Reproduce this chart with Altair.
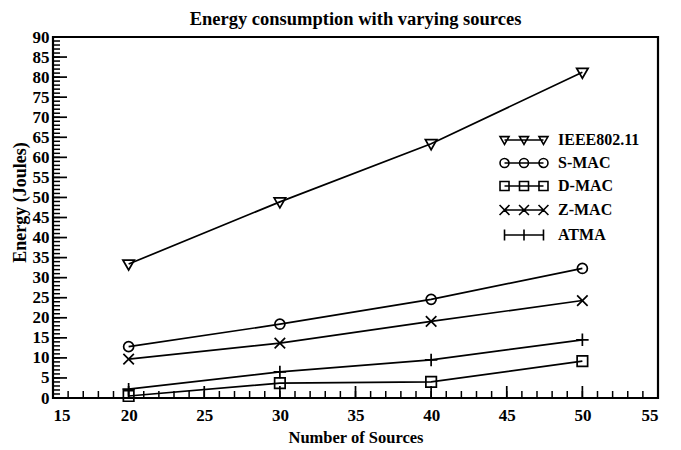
import altair as alt
import pandas as pd

# ---- data ----
sources = [20, 30, 40, 50]
series_names = ["IEEE802.11", "S-MAC", "D-MAC", "Z-MAC", "ATMA"]
ieee = [33.4, 48.9, 63.4, 81.2]
smac = [12.8, 18.4, 24.6, 32.3]
dmac = [0.5, 3.7, 4.0, 9.2]
zmac = [9.7, 13.7, 19.1, 24.3]
atma = [2.2, 6.5, 9.5, 14.5]

x_ticks_major = [15, 20, 25, 30, 35, 40, 45, 50, 55]
y_ticks_major = [0, 5, 10, 15, 20, 25, 30, 35, 40, 45, 50, 55, 60, 65, 70, 75, 80, 85, 90]
x_ticks_minor = list(range(15, 56))
y_ticks_minor = list(range(0, 91))

values = [ieee, smac, dmac, zmac, atma]
rows = []
for name, vals in zip(series_names, values):
    for s, v in zip(sources, vals):
        rows.append({"sources": s, "energy": v, "series": name})
df = pd.DataFrame(rows)

FONT = "Liberation Serif"
W, H = 605, 361

xscale = alt.Scale(domain=[15, 55], nice=False, zero=False)
yscale = alt.Scale(domain=[0, 90], nice=False)

x_axis = alt.Axis(values=x_ticks_major, ticks=False, domain=False, grid=False,
                  labelOverlap=False,
                  labelFont=FONT, labelFontWeight="bold", labelFontSize=17,
                  labelColor="black", labelPadding=9,
                  title="Number of Sources", titleFont=FONT, titleFontWeight="bold",
                  titleFontSize=16.5, titleColor="black", titlePadding=6)
y_axis = alt.Axis(values=y_ticks_major, ticks=False, domain=False, grid=False,
                  labelOverlap=False,
                  labelFont=FONT, labelFontWeight="bold", labelFontSize=17,
                  labelColor="black", labelPadding=4,
                  title="Energy (Joules)", titleFont=FONT, titleFontWeight="bold",
                  titleFontSize=18, titleColor="black", titlePadding=3, titleY=165)

x_enc = alt.X("sources:Q", scale=xscale, axis=x_axis)
y_enc = alt.Y("energy:Q", scale=yscale, axis=y_axis)

# plot marker shapes (custom paths so that all are open outlines)
plot_shapes = [
    "M-1.15,-0.8L1.15,-0.8L0,1.2Z",
    "M1,0A1,1 0 1,1 -1,0A1,1 0 1,1 1,0Z",
    "M-1.05,-1.05L1.05,-1.05L1.05,1.05L-1.05,1.05Z",
    "M-1.05,-1.05L1.05,1.05M-1.05,1.05L1.05,-1.05",
    "M-1.25,0L1.25,0M0,-1.25L0,1.25",
]

def legend_path(marker):
    parts = ["M-4.33,0L4.33,0"]
    for cx in (-4.33, 0.0, 4.33):
        parts.append(marker(cx))
    return "".join(parts)

legend_shapes = [
    legend_path(lambda c: f"M{c-1},-0.75L{c+1},-0.75L{c},1Z"),
    legend_path(lambda c: f"M{c+1},0A1,1 0 1,1 {c-1},0A1,1 0 1,1 {c+1},0Z"),
    legend_path(lambda c: f"M{c-1},-1L{c+1},-1L{c+1},1L{c-1},1Z"),
    legend_path(lambda c: f"M{c-1.1},-1.1L{c+1.1},1.1M{c-1.1},1.1L{c+1.1},-1.1"),
    legend_path(lambda c: f"M{c},-1.2L{c},1.2"),
]

base = alt.Chart(df)

lines = base.mark_line(color="black", strokeWidth=1.7).encode(
    x=x_enc, y=y_enc, detail="series:N")

points = base.mark_point(filled=False, color="black", strokeWidth=1.7, opacity=1, size=100).encode(
    x=x_enc, y=y_enc,
    shape=alt.Shape("series:N", scale=alt.Scale(domain=series_names, range=plot_shapes), legend=None))

legend_layer = base.transform_filter("false").mark_point(filled=False, color="black").encode(
    x=x_enc, y=y_enc,
    shape=alt.Shape("series:N", scale=alt.Scale(domain=series_names, range=legend_shapes),
                    legend=alt.Legend(orient="none", legendX=463, legendY=95, title=None,
                                      symbolSize=81, symbolStrokeWidth=1.6,
                                      symbolStrokeColor="black", symbolFillColor="transparent",
                                      symbolOpacity=1, labelOffset=26,
                                      labelFont=FONT, labelFontWeight="bold", labelFontSize=16,
                                      labelColor="black", rowPadding=7, padding=0,
                                      labelLimit=200)))

# inward axis ticks
xmin_df = pd.DataFrame({"t": x_ticks_minor})
xmaj_df = pd.DataFrame({"t": x_ticks_major})
ymin_df = pd.DataFrame({"t": y_ticks_minor})
ymaj_df = pd.DataFrame({"t": y_ticks_major})

x_minor = alt.Chart(xmin_df).mark_rule(color="black", strokeWidth=1.5).encode(
    x=alt.X("t:Q", scale=xscale, axis=x_axis), y=alt.value(H), y2=alt.value(H - 7))
x_major = alt.Chart(xmaj_df).mark_rule(color="black", strokeWidth=1.7).encode(
    x=alt.X("t:Q", scale=xscale, axis=x_axis), y=alt.value(H), y2=alt.value(H - 12))
y_minor = alt.Chart(ymin_df).mark_rule(color="black", strokeWidth=1.5).encode(
    y=alt.Y("t:Q", scale=yscale, axis=y_axis), x=alt.value(0), x2=alt.value(7))
y_major = alt.Chart(ymaj_df).mark_rule(color="black", strokeWidth=1.7).encode(
    y=alt.Y("t:Q", scale=yscale, axis=y_axis), x=alt.value(0), x2=alt.value(14))

chart = alt.layer(
    lines, points, legend_layer, x_minor, x_major, y_minor, y_major
).resolve_scale(shape="independent").properties(
    width=W, height=H,
    title=alt.TitleParams("Energy consumption with varying sources", font=FONT,
                          fontWeight="bold", fontSize=18.5, color="black",
                          anchor="middle", offset=0),
    autosize=alt.AutoSizeParams(type="none"),
    padding={"left": 45, "top": 29, "right": 12, "bottom": 50},
    background="white",
).configure_view(stroke="black", strokeWidth=2.2)

chart.save("out.html", embed_options={"renderer": "svg", "actions": False})
